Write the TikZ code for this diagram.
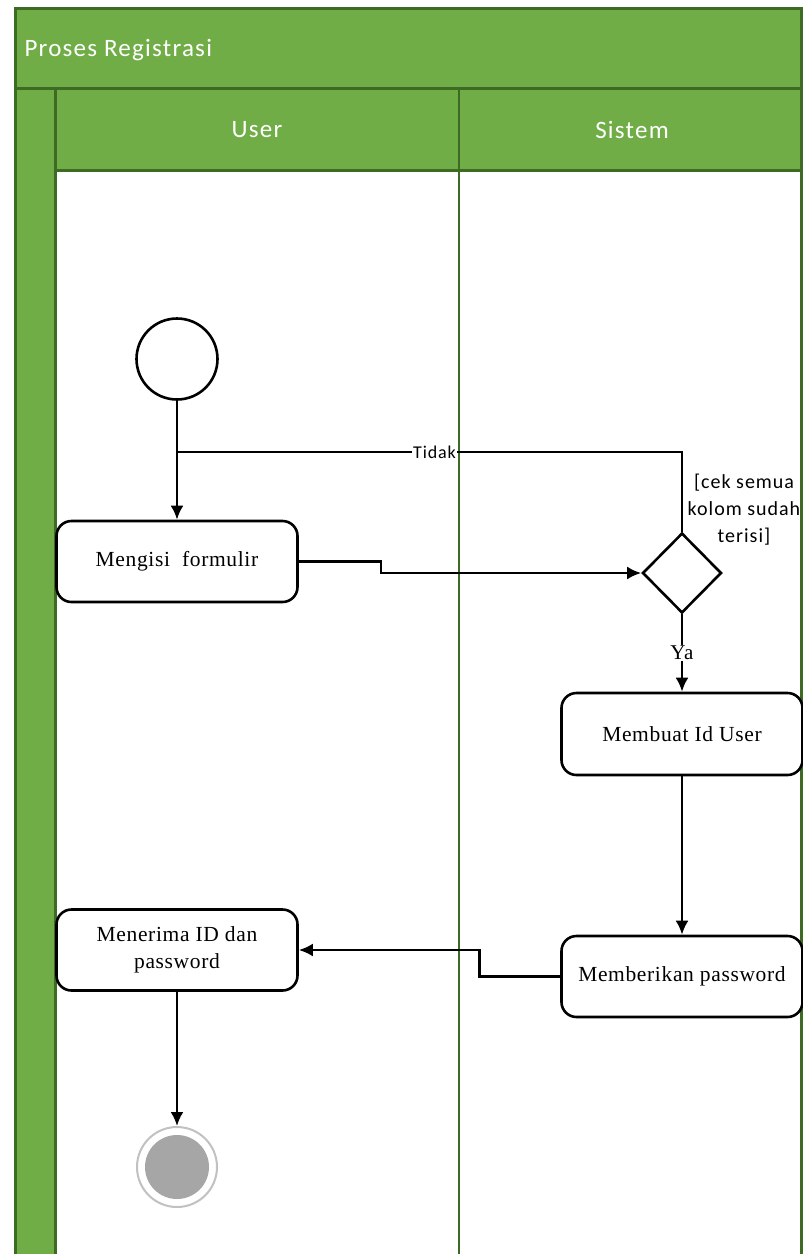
\documentclass[tikz,border=0pt]{standalone}
\usepackage{fontspec}
\setmainfont{Liberation Serif}[LetterSpace=3]
\newfontfamily\calfont{Carlito}[LetterSpace=5]
\usetikzlibrary{arrows.meta,shapes.geometric}
\definecolor{lanegreen}{HTML}{70AD47}
\definecolor{laneborder}{HTML}{3E6B23}
\definecolor{endgray}{HTML}{A6A6A6}
\tikzset{
  act/.style={draw=black,line width=2.6pt,rounded corners=15pt,minimum width=241pt,inner sep=0pt,align=center,fill=white,font=\fontsize{21.5}{27}\selectfont},
  flow/.style={draw=black,line width=2.6pt,-{Latex[length=14pt,width=13pt]}},
  plainline/.style={draw=black,line width=2.6pt},
  laneline/.style={draw=laneborder,line width=3pt},
  hdr/.style={text=white,font=\calfont\fontsize{25}{28}\selectfont},
  guard/.style={font=\calfont\fontsize{20}{27}\selectfont,align=center},
}
\begin{document}
\begin{tikzpicture}[x=1pt,y=-1pt]
\useasboundingbox (0,0) rectangle (803,1254);
\fill[white] (0,0) rectangle (803,1254);
% swimlane frame
\fill[lanegreen] (15,8) rectangle (801,1262);
\fill[white] (56,171) rectangle (800,1262);
\draw[laneline] (15,1262) -- (15,8) -- (801,8) -- (801,1262);
\draw[laneline] (15,88) -- (801,88);
\draw[laneline] (55,88) -- (55,1262);
\draw[laneline] (55,170) -- (801,170);
\draw[draw=laneborder,line width=2pt] (459,88) -- (459,1262);
\node[hdr,anchor=west] (title) at (21,50) {Proses Registrasi};
\node[hdr] (laneuser) at (257,130) {User};
\node[hdr] (lanesys) at (632,130) {Sistem};
% nodes
\node[circle,draw=black,line width=2.6pt,minimum size=81pt,inner sep=0pt] (start) at (177,359) {};
\node[act,minimum height=81pt] (fill) at (177,561.5) {Mengisi\ \ formulir};
\node[diamond,draw=black,line width=2.6pt,minimum width=79pt,minimum height=80pt,inner sep=0pt] (dec) at (682,573) {};
\node[guard] (cond) at (744,510) {[cek semua\\kolom sudah\\terisi]};
\node[act,minimum height=82pt] (idu) at (682,734) {Membuat Id User};
\node[act,minimum height=81pt] (pwd) at (682,976.5) {Memberikan password};
\node[act,minimum height=81pt] (recv) at (177,950) {Menerima ID dan\\password};
\node[circle,draw=endgray!70,line width=2pt,minimum size=80pt,inner sep=0pt] (end) at (177,1167) {};
\node[circle,fill=endgray,minimum size=64pt,inner sep=0pt] (endin) at (end.center) {};
% connectors
\coordinate (j) at (177,452);
\draw[flow] (start.south) -- (fill.north);
\draw[plainline] (dec.north) |- (j) node[pos=0.745,fill=white,inner sep=1pt,font=\calfont\fontsize{18}{18}\selectfont] (tidak) {Tidak};
\draw[flow] (fill.east) -- ++(82,0) |- (dec.west);
\draw[flow] (dec.south) -- (idu.north) node[midway,fill=white,inner sep=1.5pt,font=\fontsize{21}{21}\selectfont] (ya) {Ya};
\draw[flow] (idu.south) -- (pwd.north);
\draw[flow] (pwd.west) -- ++(-81,0) |- (recv.east);
\draw[flow] (recv.south) -- (end.north);
\end{tikzpicture}
\end{document}
